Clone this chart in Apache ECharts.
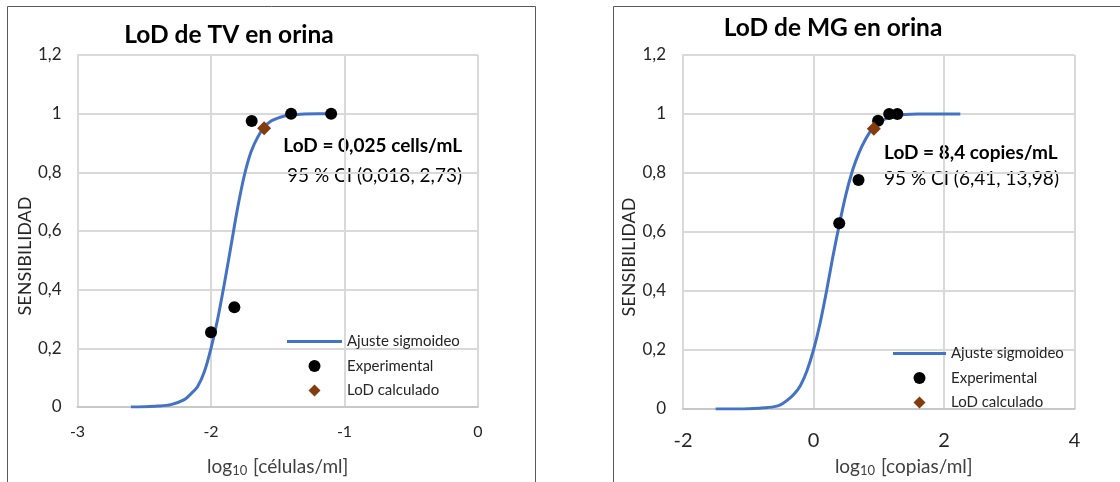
<!DOCTYPE html>
<html>
<head>
<meta charset="utf-8">
<script src="https://cdn.jsdelivr.net/npm/echarts@6/dist/echarts.min.js"></script>
<style>
  html, body { margin: 0; padding: 0; background: #fff; }
  #chart { width: 1120px; height: 482px; }
</style>
</head>
<body>
<div id="chart"></div>
<script>
// LoD de TV: ajuste sigmoideo
const tvCurveX = [-2.6, -2.5, -2.4, -2.3, -2.2, -2.15, -2.1, -2.05, -2.0, -1.95, -1.9, -1.85, -1.8, -1.75, -1.7, -1.65, -1.6, -1.55, -1.5, -1.45, -1.4, -1.3, -1.2, -1.1]
const tvCurveY = [0, 0.001, 0.003, 0.008, 0.025, 0.045, 0.07, 0.12, 0.2, 0.3, 0.42, 0.55, 0.68, 0.79, 0.87, 0.92, 0.955, 0.975, 0.985, 0.992, 0.996, 0.999, 1, 1]
const tvExpX = [-2.0, -1.825, -1.695, -1.4, -1.1]
const tvExpY = [0.255, 0.34, 0.975, 1, 1]
const tvLodX = [-1.602]
const tvLodY = [0.95]

// LoD de MG
const mgCurveX = [-1.5, -1.2, -1.0, -0.8, -0.6, -0.5, -0.4, -0.3, -0.2, -0.1, 0, 0.1, 0.2, 0.3, 0.4, 0.5, 0.6, 0.7, 0.8, 0.9, 1.0, 1.1, 1.2, 1.4, 1.6, 2.25]
const mgCurveY = [0, 0, 0.001, 0.003, 0.008, 0.015, 0.03, 0.05, 0.08, 0.13, 0.2, 0.29, 0.4, 0.52, 0.63, 0.73, 0.81, 0.87, 0.915, 0.95, 0.97, 0.983, 0.991, 0.998, 1, 1]
const mgExpX = [0.394, 0.69, 0.99, 1.16, 1.285]
const mgExpY = [0.63, 0.776, 0.977, 1, 1]
const mgLodX = [0.924]
const mgLodY = [0.95]

const legendNames = ['Ajuste sigmoideo', 'Experimental', 'LoD calculado']

const FONT = 'Lato, "Open Sans", sans-serif'
const GRID_COLOR = '#d9d9d9'
const BLUE = '#4472c4'
const BROWN = '#843c0c'

const zip = (xs, ys) => xs.map((x, i) => [x, ys[i]])
const comma = v => String(v).replace('.', ',')

const xAxisBase = (idx, min, max, interval, labelSize, labelMargin, name, nameGap, namePad) => ({
  gridIndex: idx,
  type: 'value',
  min, max, interval,
  name,
  nameLocation: 'middle',
  nameGap,
  nameTextStyle: {
    fontFamily: FONT, fontSize: 19, color: '#404040', padding: namePad,
    rich: { s: { fontFamily: FONT, fontSize: 13, color: '#404040', verticalAlign: 'bottom', padding: [7, 1, 0, 0] } }
  },
  axisLine: { show: true, onZero: false, lineStyle: { color: '#c8c8c8', width: 2 } },
  axisTick: { show: false },
  axisLabel: { fontFamily: FONT, fontSize: labelSize, color: '#262626', margin: labelMargin, formatter: comma },
  splitLine: { show: true, lineStyle: { color: GRID_COLOR, width: 2 } }
})

const yAxisBase = (idx, margin, nameGap) => ({
  gridIndex: idx,
  type: 'value',
  min: 0, max: 1.2, interval: 0.2,
  name: 'SENSIBILIDAD',
  nameLocation: 'middle',
  nameGap,
  nameTextStyle: { fontFamily: FONT, fontSize: 18, color: '#262626', padding: [0, 50, 0, 0] },
  axisLine: { show: true, onZero: false, lineStyle: { color: GRID_COLOR, width: 2 } },
  axisTick: { show: false },
  axisLabel: { fontFamily: FONT, fontSize: 17, color: '#262626', margin, formatter: comma },
  splitLine: { show: true, lineStyle: { color: GRID_COLOR, width: 2 } }
})

const seriesFor = (idx, curveX, curveY, expX, expY, lodX, lodY) => [
  {
    name: 'Ajuste sigmoideo', type: 'line', xAxisIndex: idx, yAxisIndex: idx,
    data: zip(curveX, curveY), smooth: 0.3,
    symbol: 'none', lineStyle: { color: BLUE, width: 3 }, itemStyle: { color: BLUE }, z: 2
  },
  {
    name: 'Experimental', type: 'scatter', xAxisIndex: idx, yAxisIndex: idx,
    data: zip(expX, expY), symbol: 'circle', symbolSize: 12,
    itemStyle: { color: '#000', opacity: 1 }, z: 3
  },
  {
    name: 'LoD calculado', type: 'scatter', xAxisIndex: idx, yAxisIndex: idx,
    data: zip(lodX, lodY), symbol: 'diamond', symbolSize: 14,
    itemStyle: { color: BROWN, opacity: 1 }, z: 4
  }
]

// iconos de leyenda: linea, circulo y rombo
const legendFor = (left, top, width) => ({
  orient: 'vertical', left, top, padding: 0,
  data: [
    { name: legendNames[0], icon: 'path://M0,0h' + width + 'v3h-' + width + 'z' },
    { name: legendNames[1], icon: 'circle' },
    { name: legendNames[2], icon: 'path://M6,0L12,6L6,12L0,6Z' }
  ],
  itemWidth: width, itemHeight: 12, itemGap: 9.5,
  symbolKeepAspect: true,
  selectedMode: false,
  textStyle: { fontFamily: FONT, fontSize: 15, color: '#262626', lineHeight: 12 }
})

const label = (x, y, text, bold, align, size) => ({
  type: 'text', x, y,
  style: {
    text, fill: '#000', textAlign: align, textVerticalAlign: 'middle',
    fontFamily: FONT, fontSize: size, fontWeight: bold ? 'bold' : 'normal'
  }
})

const chart = echarts.init(document.getElementById('chart'))
chart.setOption({
  animation: false,
  backgroundColor: '#fff',
  grid: [
    { left: 77.5, top: 55, width: 400.5, height: 353 },
    { left: 683, top: 55, width: 391.5, height: 355.5 }
  ],
  xAxis: [
    xAxisBase(0, -3, 0, 1, 16, 17, 'log{s|10} [células/ml]', 50, [0, 0, 0, 0]),
    xAxisBase(1, -2, 4, 2, 20, 22, 'log{s|10} [copias/ml]', 48, [0, 0, 0, 50])
  ],
  yAxis: [yAxisBase(0, 16, 42), yAxisBase(1, 17, 43)],
  legend: [legendFor(287, 334, 55), legendFor(893, 346, 53)],
  series: [
    ...seriesFor(0, tvCurveX, tvCurveY, tvExpX, tvExpY, tvLodX, tvLodY),
    ...seriesFor(1, mgCurveX, mgCurveY, mgExpX, mgExpY, mgLodX, mgLodY)
  ],
  graphic: [
    { type: 'rect', shape: { x: 7.5, y: 6.5, width: 528, height: 480 }, style: { fill: 'none', stroke: '#595959', lineWidth: 1 } },
    { type: 'rect', shape: { x: 613.5, y: 6.5, width: 520, height: 480 }, style: { fill: 'none', stroke: '#595959', lineWidth: 1 } },
    label(229, 35, 'LoD de TV en orina', true, 'center', 24.5),
    label(833, 28.5, 'LoD de MG en orina', true, 'center', 24.5),
    label(462, 146, 'LoD = 0,025 cells/mL', true, 'right', 19),
    label(462, 176, '95 % CI (0,018, 2,73)', false, 'right', 19),
    label(884, 153, 'LoD = 8,4 copies/mL', true, 'left', 19),
    label(884, 179, '95 % CI (6,41, 13,98)', false, 'left', 19)
  ]
})
</script>
</body>
</html>
